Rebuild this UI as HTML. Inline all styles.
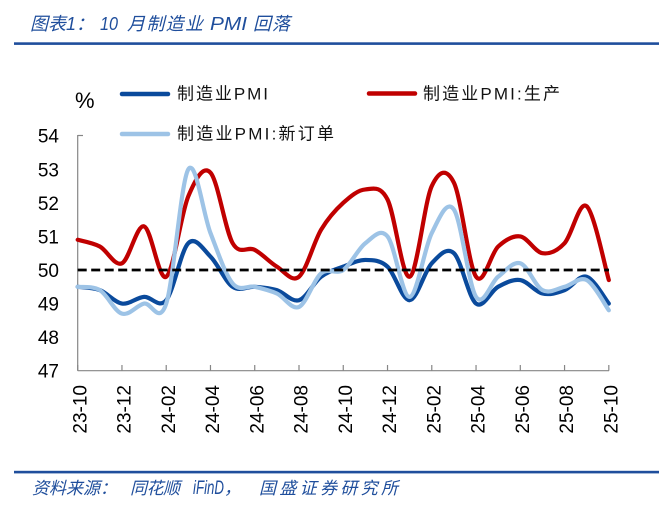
<!DOCTYPE html>
<html>
<head>
<meta charset="utf-8">
<style>
  html,body{margin:0;padding:0;background:#fff;}
  svg{display:block;}
  .cjk{font-family:"Liberation Sans","Noto Sans CJK SC",sans-serif;}
</style>
</head>
<body>
<svg id="chart" width="672" height="507" viewBox="0 0 672 507" xmlns="http://www.w3.org/2000/svg">
  <rect x="0" y="0" width="672" height="507" fill="#fff"/>

  <!-- Title -->
  <text class="cjk" y="30" font-size="18" font-style="italic" fill="#1F4E9C">
    <tspan x="30" textLength="64" lengthAdjust="spacingAndGlyphs">图表1：</tspan>
    <tspan x="100" textLength="18" lengthAdjust="spacingAndGlyphs">10</tspan>
    <tspan x="127" textLength="76" lengthAdjust="spacing">月制造业</tspan>
    <tspan x="210" textLength="37" lengthAdjust="spacingAndGlyphs">PMI</tspan>
    <tspan x="253" textLength="37" lengthAdjust="spacing">回落</tspan>
  </text>
  <rect x="14" y="42.3" width="645" height="2.6" fill="#1F4E9C"/>

  <!-- Unit -->
  <text x="75" y="108" font-family="Liberation Sans, sans-serif" font-size="22" fill="#000">%</text>

  <!-- Legend -->
  <line x1="122" y1="94" x2="168" y2="94" stroke="#0A4A9C" stroke-width="4.5" stroke-linecap="round"/>
  <text class="cjk" x="177" y="99.5" font-size="17" fill="#111" textLength="91" lengthAdjust="spacing">制造业PMI</text>
  <line x1="369" y1="93.5" x2="415" y2="93.5" stroke="#C00000" stroke-width="4.5" stroke-linecap="round"/>
  <text class="cjk" x="423" y="99.5" font-size="17" fill="#111" textLength="137" lengthAdjust="spacing">制造业PMI:生产</text>
  <line x1="122" y1="134" x2="168" y2="134" stroke="#9DC3E6" stroke-width="4.5" stroke-linecap="round"/>
  <text class="cjk" x="177" y="139.5" font-size="17" fill="#111" textLength="157" lengthAdjust="spacing">制造业PMI:新订单</text>

  <!-- Y labels -->
  <g font-family="Liberation Sans, sans-serif" font-size="19" fill="#000" text-anchor="end">
    <text x="59" y="142.7">54</text>
    <text x="59" y="176.3">53</text>
    <text x="59" y="209.9">52</text>
    <text x="59" y="243.4">51</text>
    <text x="59" y="277">50</text>
    <text x="59" y="310.6">49</text>
    <text x="59" y="344.1">48</text>
    <text x="59" y="377.7">47</text>
  </g>

  <!-- Axes -->
  <g stroke="#868686" stroke-width="1.2" fill="none">
    <line x1="77.7" y1="135" x2="77.7" y2="370.7"/>
    <line x1="77.7" y1="135.5" x2="83" y2="135.5"/>
    <line x1="77.7" y1="370.7" x2="609" y2="370.7"/>
    <line x1="77.7" y1="365" x2="77.7" y2="370.7"/>
    <line x1="121.96" y1="365" x2="121.96" y2="370.7"/>
    <line x1="166.22" y1="365" x2="166.22" y2="370.7"/>
    <line x1="210.48" y1="365" x2="210.48" y2="370.7"/>
    <line x1="254.74" y1="365" x2="254.74" y2="370.7"/>
    <line x1="299.0" y1="365" x2="299.0" y2="370.7"/>
    <line x1="343.26" y1="365" x2="343.26" y2="370.7"/>
    <line x1="387.52" y1="365" x2="387.52" y2="370.7"/>
    <line x1="431.78" y1="365" x2="431.78" y2="370.7"/>
    <line x1="476.04" y1="365" x2="476.04" y2="370.7"/>
    <line x1="520.3" y1="365" x2="520.3" y2="370.7"/>
    <line x1="564.56" y1="365" x2="564.56" y2="370.7"/>
    <line x1="608.82" y1="365" x2="608.82" y2="370.7"/>
  </g>

  <!-- X labels -->
  <g font-family="Liberation Sans, sans-serif" font-size="19" fill="#000" text-anchor="end">
    <text transform="translate(86.3,385) rotate(-90)">23-10</text>
    <text transform="translate(130.5,385) rotate(-90)">23-12</text>
    <text transform="translate(174.8,385) rotate(-90)">24-02</text>
    <text transform="translate(219.0,385) rotate(-90)">24-04</text>
    <text transform="translate(263.3,385) rotate(-90)">24-06</text>
    <text transform="translate(307.5,385) rotate(-90)">24-08</text>
    <text transform="translate(351.8,385) rotate(-90)">24-10</text>
    <text transform="translate(396.0,385) rotate(-90)">24-12</text>
    <text transform="translate(440.3,385) rotate(-90)">25-02</text>
    <text transform="translate(484.5,385) rotate(-90)">25-04</text>
    <text transform="translate(528.8,385) rotate(-90)">25-06</text>
    <text transform="translate(573.0,385) rotate(-90)">25-08</text>
    <text transform="translate(617.3,385) rotate(-90)">25-10</text>
  </g>

  <!-- Series (fallback polylines, replaced by smooth curves via script) -->
  <g id="fb" transform="matrix(22.13 0 0 -33.57 77.7 1948.5)" fill="none" stroke-linejoin="round" stroke-linecap="round">
    <polyline vector-effect="non-scaling-stroke" stroke="#0A4A9C" stroke-width="4.2" points="0,49.5 1,49.4 2,49.0 3,49.2 4,49.1 5,50.8 6,50.4 7,49.5 8,49.5 9,49.4 10,49.1 11,49.8 12,50.1 13,50.3 14,50.1 15,49.1 16,50.2 17,50.5 18,49.0 19,49.5 20,49.7 21,49.3 22,49.4 23,49.8 24,49.0"/>
    <polyline vector-effect="non-scaling-stroke" stroke="#C00000" stroke-width="4.2" points="0,50.9 1,50.7 2,50.2 3,51.3 4,49.8 5,52.2 6,52.9 7,50.8 8,50.6 9,50.1 10,49.8 11,51.2 12,52.0 13,52.4 14,52.1 15,49.8 16,52.5 17,52.6 18,49.8 19,50.7 20,51.0 21,50.5 22,50.8 23,51.9 24,49.7"/>
    <polyline vector-effect="non-scaling-stroke" stroke="#9DC3E6" stroke-width="4.2" points="0,49.5 1,49.4 2,48.7 3,49.0 4,49.0 5,53.0 6,51.1 7,49.6 8,49.5 9,49.3 10,48.9 11,49.9 12,50.0 13,50.8 14,51.0 15,49.2 16,51.1 17,51.8 18,49.2 19,49.8 20,50.2 21,49.4 22,49.5 23,49.7 24,48.8"/>
  </g>
  <g id="series"></g>

  <!-- 50 reference dashed line -->
  <line x1="77.7" y1="270" x2="609" y2="270" stroke="#000" stroke-width="2.8" stroke-dasharray="9,4.5"/>

  <!-- Source -->
  <rect x="14" y="470.8" width="645" height="2.6" fill="#1F4E9C"/>
  <text class="cjk" y="494" font-size="17" font-style="italic" fill="#1F4E9C">
    <tspan x="32" textLength="85" lengthAdjust="spacing">资料来源：</tspan>
    <tspan x="130" textLength="50" lengthAdjust="spacing">同花顺</tspan>
    <tspan x="193" font-size="19" textLength="31" lengthAdjust="spacingAndGlyphs">iFinD</tspan>
    <tspan x="224">，</tspan>
    <tspan x="259" textLength="139" lengthAdjust="spacing">国盛证券研究所</tspan>
  </text>
</svg>
<script>
(function(){
  var X0=77.7, DX=22.13, Y50=270, DY=33.57;
  function px(i){return X0+DX*i;}
  function py(v){return Y50-(v-50)*DY;}
  var series=[
    {c:"#0A4A9C",d:[49.5,49.4,49.0,49.2,49.1,50.8,50.4,49.5,49.5,49.4,49.1,49.8,50.1,50.3,50.1,49.1,50.2,50.5,49.0,49.5,49.7,49.3,49.4,49.8,49.0]},
    {c:"#C00000",d:[50.9,50.7,50.2,51.3,49.8,52.2,52.9,50.8,50.6,50.1,49.8,51.2,52.0,52.4,52.1,49.8,52.5,52.6,49.8,50.7,51.0,50.5,50.8,51.9,49.7]},
    {c:"#9DC3E6",d:[49.5,49.4,48.7,49.0,49.0,53.0,51.1,49.6,49.5,49.3,48.9,49.9,50.0,50.8,51.0,49.2,51.1,51.8,49.2,49.8,50.2,49.4,49.5,49.7,48.8]}
  ];
  function f(n){return n.toFixed(2);}
  var ns="http://www.w3.org/2000/svg";
  var g=document.getElementById("series");
  series.forEach(function(s){
    var pts=s.d.map(function(v,i){return [px(i),py(v)];});
    var n=pts.length;
    var d="M"+f(pts[0][0])+","+f(pts[0][1]);
    for(var i=0;i<n-1;i++){
      var p0=pts[i-1]||pts[i], p1=pts[i], p2=pts[i+1], p3=pts[i+2]||pts[i+1];
      var c1=[p1[0]+(p2[0]-p0[0])/6, p1[1]+(p2[1]-p0[1])/6];
      var c2=[p2[0]-(p3[0]-p1[0])/6, p2[1]-(p3[1]-p1[1])/6];
      d+=" C"+f(c1[0])+","+f(c1[1])+" "+f(c2[0])+","+f(c2[1])+" "+f(p2[0])+","+f(p2[1]);
    }
    var p=document.createElementNS(ns,"path");
    p.setAttribute("d",d);
    p.setAttribute("fill","none");
    p.setAttribute("stroke",s.c);
    p.setAttribute("stroke-width","4.2");
    p.setAttribute("stroke-linejoin","round");
    p.setAttribute("stroke-linecap","round");
    g.appendChild(p);
  });
  var fb=document.getElementById("fb");
  if(fb&&fb.parentNode){fb.parentNode.removeChild(fb);}
})();
</script>
</body>
</html>
